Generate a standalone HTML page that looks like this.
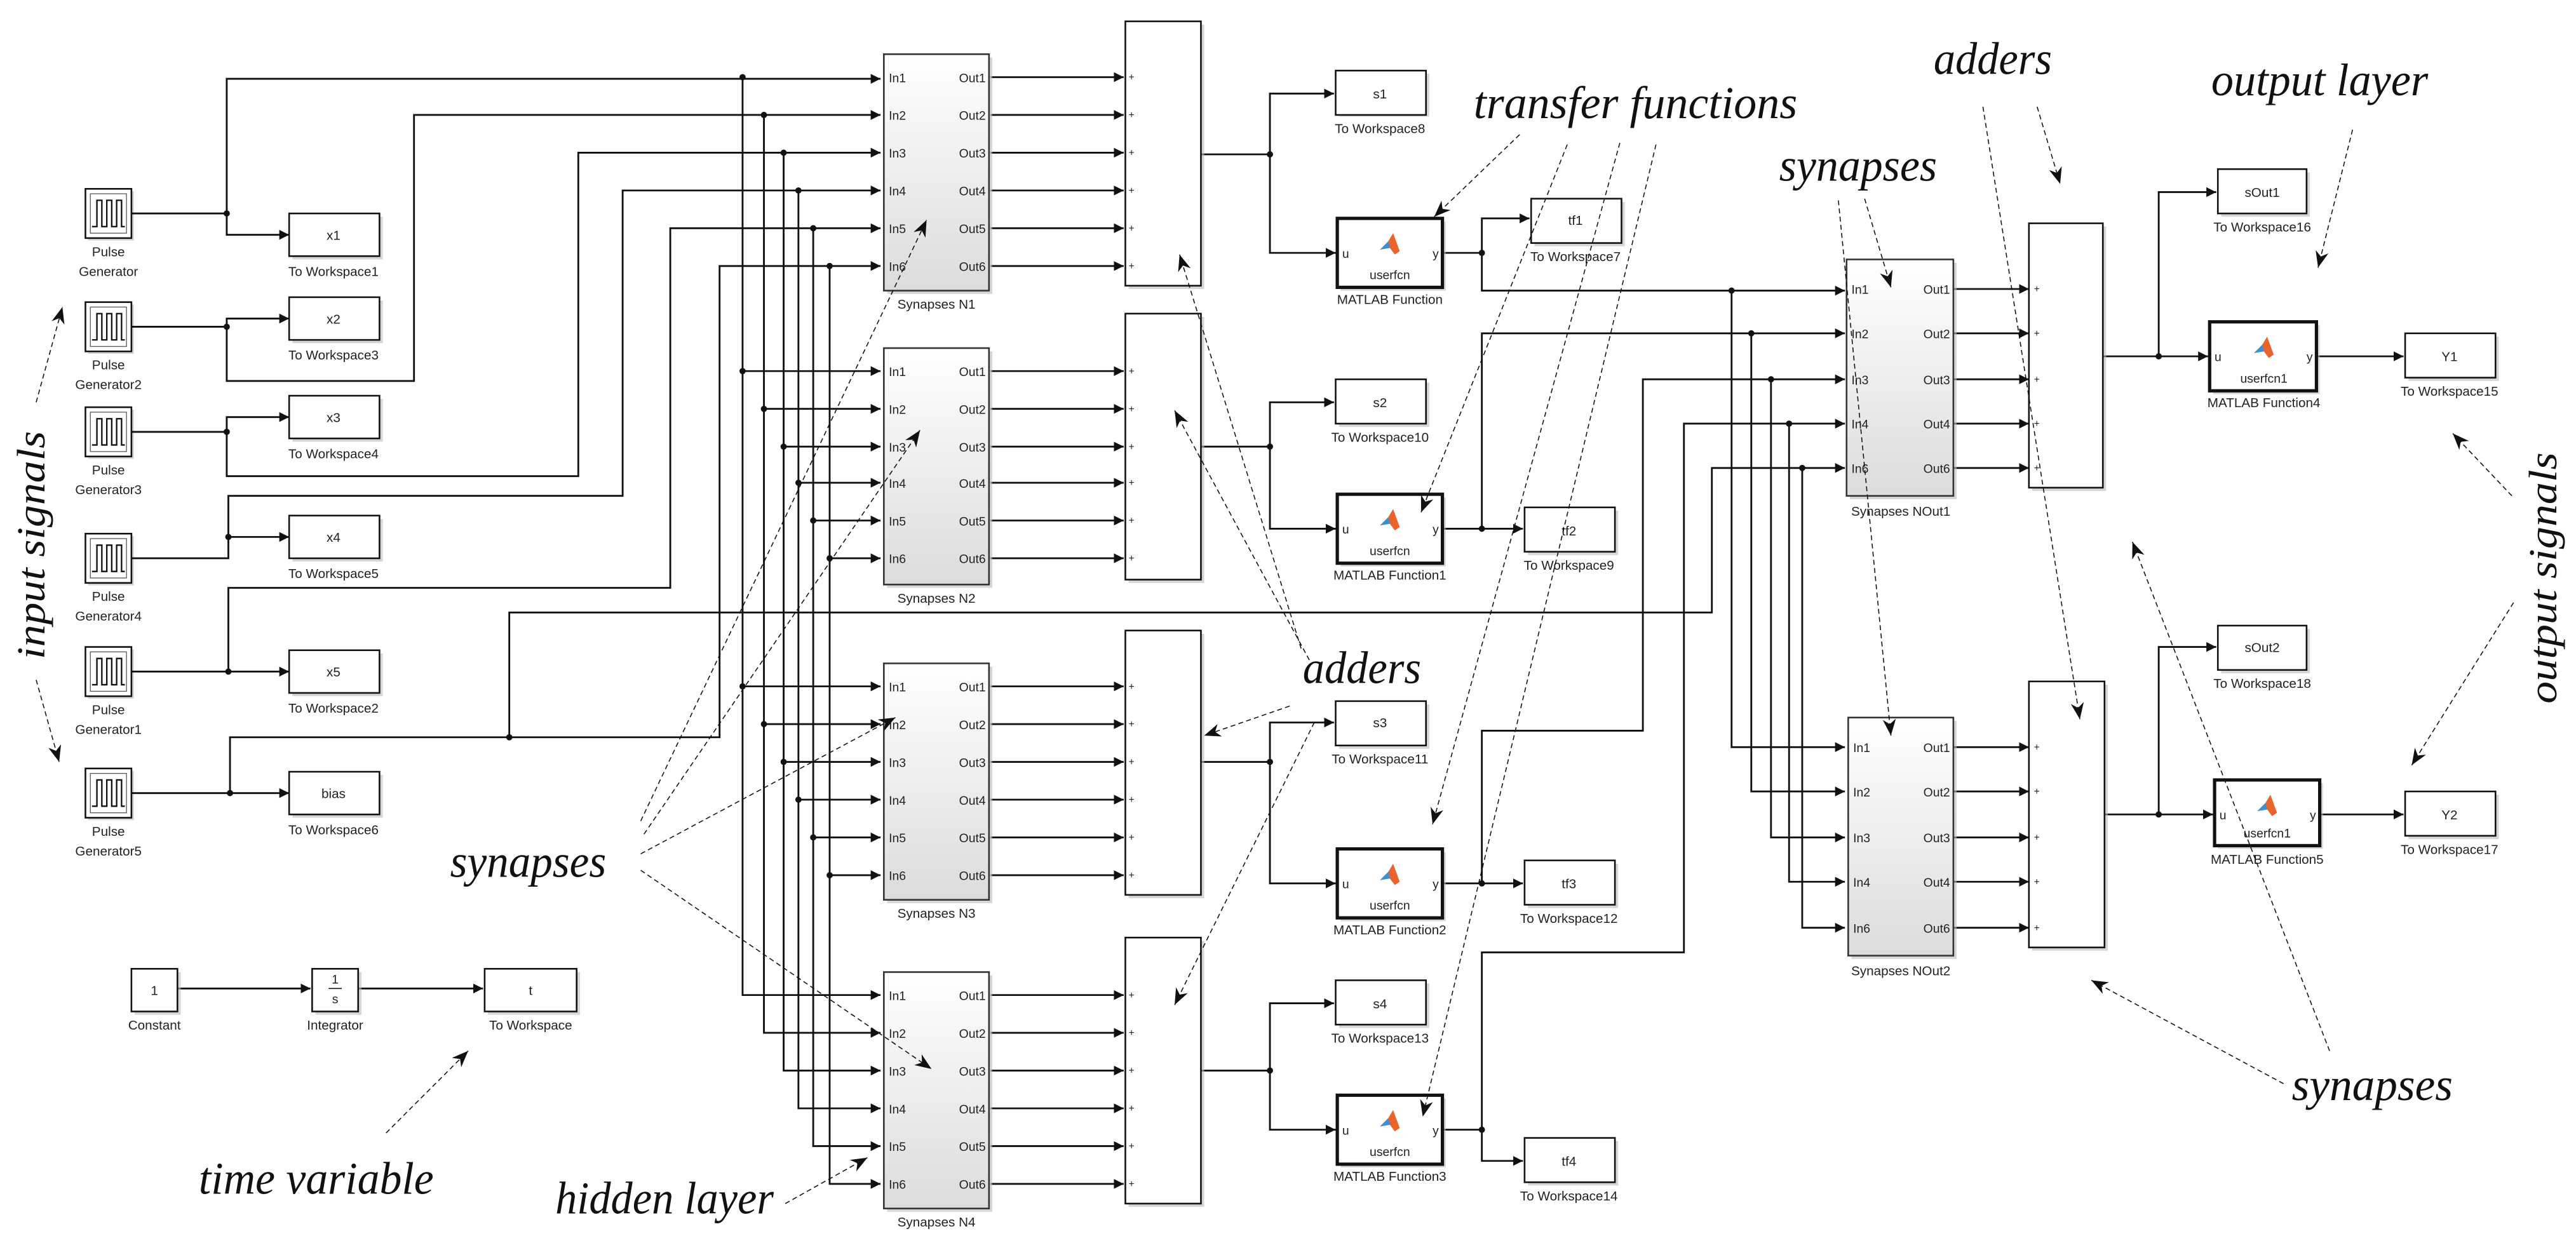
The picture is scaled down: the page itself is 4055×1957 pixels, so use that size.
<!DOCTYPE html>
<html><head><meta charset="utf-8"><style>
html,body{margin:0;padding:0;background:#fff;}
svg{display:block;}
.s{font-family:"Liberation Sans",sans-serif;font-size:8px;fill:#222;}
.p{font-family:"Liberation Sans",sans-serif;font-size:7.5px;fill:#222;}
.a{font-family:"Liberation Serif",serif;font-style:italic;font-size:28px;fill:#111;}
.w{fill:none;stroke:#111;stroke-width:1.1;}
.d{fill:none;stroke:#111;stroke-width:0.6;stroke-dasharray:3 2;}
.b{fill:#fff;stroke:#111;stroke-width:1;}
.m{fill:#fff;stroke:#111;stroke-width:2;}
.sh{fill:#bbb;opacity:.6;}
</style></head><body>
<svg width="4055" height="1957" viewBox="0 0 1568 757" preserveAspectRatio="none" xmlns="http://www.w3.org/2000/svg">
<defs>
<marker id="ar" markerUnits="userSpaceOnUse" markerWidth="7" markerHeight="7" refX="6" refY="3" orient="auto"><path d="M0,0 L6,3 L0,6 z" fill="#111"/></marker>
<marker id="da" markerUnits="userSpaceOnUse" markerWidth="12" markerHeight="10" refX="10" refY="4" orient="auto"><path d="M0,0 L10,4 L0,8 L3,4 z" fill="#111"/></marker>
<linearGradient id="g" x1="0" y1="0" x2="0" y2="1"><stop offset="0" stop-color="#fff"/><stop offset="1" stop-color="#dcdcdc"/></linearGradient>
<g id="pulse"><rect x="1.5" y="1.5" width="28" height="30" class="sh"/><rect x="0" y="0" width="28" height="30" class="b"/><rect x="3" y="3" width="22" height="24" fill="none" stroke="#555" stroke-width="0.5"/><path d="M4,23 H7 V7 H10 V23 H13 V7 H16 V23 H19 V7 H22 V23 H24" fill="none" stroke="#111" stroke-width="0.9"/></g>
<g id="logo"><path d="M-6,3 L-1,-2 L2,-7 L6,4 L3,6 L0,2 Z" fill="#e8642c"/><path d="M-6,3 L-1,-2 L0,2 Z" fill="#3b8fd6"/></g>
</defs>

<use href="#pulse" x="52" y="115"/><text class="s" x="66" y="156" text-anchor="middle">Pulse</text><text class="s" x="66" y="168" text-anchor="middle">Generator</text>
<use href="#pulse" x="52" y="184"/><text class="s" x="66" y="225" text-anchor="middle">Pulse</text><text class="s" x="66" y="237" text-anchor="middle">Generator2</text>
<use href="#pulse" x="52" y="248"/><text class="s" x="66" y="289" text-anchor="middle">Pulse</text><text class="s" x="66" y="301" text-anchor="middle">Generator3</text>
<use href="#pulse" x="52" y="325"/><text class="s" x="66" y="366" text-anchor="middle">Pulse</text><text class="s" x="66" y="378" text-anchor="middle">Generator4</text>
<use href="#pulse" x="52" y="394"/><text class="s" x="66" y="435" text-anchor="middle">Pulse</text><text class="s" x="66" y="447" text-anchor="middle">Generator1</text>
<use href="#pulse" x="52" y="468"/><text class="s" x="66" y="509" text-anchor="middle">Pulse</text><text class="s" x="66" y="521" text-anchor="middle">Generator5</text>

<g>
<rect x="178" y="132" width="55" height="26" class="sh"/><rect x="176" y="130" width="55" height="26" class="b"/><text class="s" x="203" y="146" text-anchor="middle">x1</text><text class="s" x="203" y="168" text-anchor="middle">To Workspace1</text>
<rect x="178" y="183" width="55" height="26" class="sh"/><rect x="176" y="181" width="55" height="26" class="b"/><text class="s" x="203" y="197" text-anchor="middle">x2</text><text class="s" x="203" y="219" text-anchor="middle">To Workspace3</text>
<rect x="178" y="243" width="55" height="26" class="sh"/><rect x="176" y="241" width="55" height="26" class="b"/><text class="s" x="203" y="257" text-anchor="middle">x3</text><text class="s" x="203" y="279" text-anchor="middle">To Workspace4</text>
<rect x="178" y="316" width="55" height="26" class="sh"/><rect x="176" y="314" width="55" height="26" class="b"/><text class="s" x="203" y="330" text-anchor="middle">x4</text><text class="s" x="203" y="352" text-anchor="middle">To Workspace5</text>
<rect x="178" y="398" width="55" height="26" class="sh"/><rect x="176" y="396" width="55" height="26" class="b"/><text class="s" x="203" y="412" text-anchor="middle">x5</text><text class="s" x="203" y="434" text-anchor="middle">To Workspace2</text>
<rect x="178" y="472" width="55" height="26" class="sh"/><rect x="176" y="470" width="55" height="26" class="b"/><text class="s" x="203" y="486" text-anchor="middle">bias</text><text class="s" x="203" y="508" text-anchor="middle">To Workspace6</text>
</g>

<g class="w">
<path d="M80,130 H138 V143 H176" marker-end="url(#ar)"/>
<path d="M138,130 V48 H536" marker-end="url(#ar)"/>
<path d="M80,199 H138 V194 H176" marker-end="url(#ar)"/>
<path d="M138,199 V232 H252 V70 H536" marker-end="url(#ar)"/>
<path d="M80,263 H138 V254 H176" marker-end="url(#ar)"/>
<path d="M138,263 V290 H352 V93 H536" marker-end="url(#ar)"/>
<path d="M80,340 H139 V327 H176" marker-end="url(#ar)"/>
<path d="M139,327 V302 H379 V116 H536" marker-end="url(#ar)"/>
<path d="M80,409 H176" marker-end="url(#ar)"/>
<path d="M139,409 V358 H408 V139 H536" marker-end="url(#ar)"/>
<path d="M80,483 H176" marker-end="url(#ar)"/>
<path d="M140,483 V449 H438 V162 H536" marker-end="url(#ar)"/>
<path d="M310,449 V373 H1042 V285 H1123" marker-end="url(#ar)"/>
<path d="M452,47 V606 H536" marker-end="url(#ar)"/>
<path d="M465,70 V629 H536" marker-end="url(#ar)"/>
<path d="M477,93 V652 H536" marker-end="url(#ar)"/>
<path d="M486,116 V675 H536" marker-end="url(#ar)"/>
<path d="M495,139 V698 H536" marker-end="url(#ar)"/>
<path d="M505,162 V721 H536" marker-end="url(#ar)"/>
<path d="M452,226 H536" marker-end="url(#ar)"/><path d="M465,249 H536" marker-end="url(#ar)"/><path d="M477,272 H536" marker-end="url(#ar)"/><path d="M486,294 H536" marker-end="url(#ar)"/><path d="M495,317 H536" marker-end="url(#ar)"/><path d="M505,340 H536" marker-end="url(#ar)"/>
<path d="M452,418 H536" marker-end="url(#ar)"/><path d="M465,441 H536" marker-end="url(#ar)"/><path d="M477,464 H536" marker-end="url(#ar)"/><path d="M486,487 H536" marker-end="url(#ar)"/><path d="M495,510 H536" marker-end="url(#ar)"/><path d="M505,533 H536" marker-end="url(#ar)"/>
<path d="M603,47 H684" marker-end="url(#ar)"/><path d="M603,70 H684" marker-end="url(#ar)"/><path d="M603,93 H684" marker-end="url(#ar)"/><path d="M603,116 H684" marker-end="url(#ar)"/><path d="M603,139 H684" marker-end="url(#ar)"/><path d="M603,162 H684" marker-end="url(#ar)"/>
<path d="M603,226 H684" marker-end="url(#ar)"/><path d="M603,249 H684" marker-end="url(#ar)"/><path d="M603,272 H684" marker-end="url(#ar)"/><path d="M603,294 H684" marker-end="url(#ar)"/><path d="M603,317 H684" marker-end="url(#ar)"/><path d="M603,340 H684" marker-end="url(#ar)"/>
<path d="M603,418 H684" marker-end="url(#ar)"/><path d="M603,441 H684" marker-end="url(#ar)"/><path d="M603,464 H684" marker-end="url(#ar)"/><path d="M603,487 H684" marker-end="url(#ar)"/><path d="M603,510 H684" marker-end="url(#ar)"/><path d="M603,533 H684" marker-end="url(#ar)"/>
<path d="M603,606 H684" marker-end="url(#ar)"/><path d="M603,629 H684" marker-end="url(#ar)"/><path d="M603,652 H684" marker-end="url(#ar)"/><path d="M603,675 H684" marker-end="url(#ar)"/><path d="M603,698 H684" marker-end="url(#ar)"/><path d="M603,721 H684" marker-end="url(#ar)"/>
<path d="M731,94 H773 V57 H812" marker-end="url(#ar)"/><path d="M773,94 V154 H813" marker-end="url(#ar)"/>
<path d="M731,272 H773 V245 H812" marker-end="url(#ar)"/><path d="M773,272 V322 H813" marker-end="url(#ar)"/>
<path d="M731,464 H773 V440 H812" marker-end="url(#ar)"/><path d="M773,464 V538 H813" marker-end="url(#ar)"/>
<path d="M731,652 H773 V611 H812" marker-end="url(#ar)"/><path d="M773,652 V688 H813" marker-end="url(#ar)"/>
<path d="M878,154 H902 V133 H931" marker-end="url(#ar)"/><path d="M902,154 V177 H1123" marker-end="url(#ar)"/>
<path d="M878,322 H927" marker-end="url(#ar)"/><path d="M902,322 V203 H1123" marker-end="url(#ar)"/>
<path d="M878,538 H927" marker-end="url(#ar)"/><path d="M902,538 V445 H1000 V231 H1123" marker-end="url(#ar)"/>
<path d="M878,688 H902 V707 H927" marker-end="url(#ar)"/><path d="M902,688 V580 H1025 V258 H1123" marker-end="url(#ar)"/>
<path d="M1054,177 V455 H1123" marker-end="url(#ar)"/>
<path d="M1066,203 V482 H1123" marker-end="url(#ar)"/>
<path d="M1078,231 V510 H1123" marker-end="url(#ar)"/>
<path d="M1089,258 V537 H1123" marker-end="url(#ar)"/>
<path d="M1097,285 V565 H1123" marker-end="url(#ar)"/>
<path d="M1189,176 H1235" marker-end="url(#ar)"/><path d="M1189,203 H1235" marker-end="url(#ar)"/><path d="M1189,231 H1235" marker-end="url(#ar)"/><path d="M1189,258 H1235" marker-end="url(#ar)"/><path d="M1189,285 H1235" marker-end="url(#ar)"/>
<path d="M1189,455 H1235" marker-end="url(#ar)"/><path d="M1189,482 H1235" marker-end="url(#ar)"/><path d="M1189,510 H1235" marker-end="url(#ar)"/><path d="M1189,537 H1235" marker-end="url(#ar)"/><path d="M1189,565 H1235" marker-end="url(#ar)"/>
<path d="M1280,217 H1314 V117 H1349" marker-end="url(#ar)"/><path d="M1314,217 H1344" marker-end="url(#ar)"/>
<path d="M1410,217 H1463" marker-end="url(#ar)"/>
<path d="M1281,496 H1314 V394 H1349" marker-end="url(#ar)"/><path d="M1314,496 H1347" marker-end="url(#ar)"/>
<path d="M1412,496 H1463" marker-end="url(#ar)"/>
<path d="M108,602 H189" marker-end="url(#ar)"/><path d="M218,602 H294" marker-end="url(#ar)"/>
</g>

<g fill="#111">
<circle cx="138" cy="130" r="1.9"/><circle cx="138" cy="199" r="1.9"/><circle cx="138" cy="263" r="1.9"/><circle cx="139" cy="327" r="1.9"/><circle cx="139" cy="409" r="1.9"/><circle cx="140" cy="483" r="1.9"/><circle cx="310" cy="449" r="1.9"/>
<circle cx="452" cy="47" r="1.9"/><circle cx="465" cy="70" r="1.9"/><circle cx="477" cy="93" r="1.9"/><circle cx="486" cy="116" r="1.9"/><circle cx="495" cy="139" r="1.9"/><circle cx="505" cy="162" r="1.9"/>
<circle cx="452" cy="226" r="1.9"/><circle cx="465" cy="249" r="1.9"/><circle cx="477" cy="272" r="1.9"/><circle cx="486" cy="294" r="1.9"/><circle cx="495" cy="317" r="1.9"/><circle cx="505" cy="340" r="1.9"/>
<circle cx="452" cy="418" r="1.9"/><circle cx="465" cy="441" r="1.9"/><circle cx="477" cy="464" r="1.9"/><circle cx="486" cy="487" r="1.9"/><circle cx="495" cy="510" r="1.9"/><circle cx="505" cy="533" r="1.9"/>
<circle cx="773" cy="94" r="1.9"/><circle cx="773" cy="272" r="1.9"/><circle cx="773" cy="464" r="1.9"/><circle cx="773" cy="652" r="1.9"/>
<circle cx="902" cy="154" r="1.9"/><circle cx="902" cy="322" r="1.9"/><circle cx="902" cy="538" r="1.9"/><circle cx="902" cy="688" r="1.9"/>
<circle cx="1054" cy="177" r="1.9"/><circle cx="1066" cy="203" r="1.9"/><circle cx="1078" cy="231" r="1.9"/><circle cx="1089" cy="258" r="1.9"/><circle cx="1097" cy="285" r="1.9"/>
<circle cx="1314" cy="217" r="1.9"/><circle cx="1314" cy="496" r="1.9"/>
</g>

<g>
<rect x="540" y="35" width="64" height="144" class="sh"/><rect x="538" y="33" width="64" height="144" fill="url(#g)" stroke="#333" stroke-width="1"/>
<text class="p" x="541" y="50">In1</text><text class="p" x="541" y="73">In2</text><text class="p" x="541" y="96">In3</text><text class="p" x="541" y="119">In4</text><text class="p" x="541" y="142">In5</text><text class="p" x="541" y="165">In6</text>
<text class="p" x="600" y="50" text-anchor="end">Out1</text><text class="p" x="600" y="73" text-anchor="end">Out2</text><text class="p" x="600" y="96" text-anchor="end">Out3</text><text class="p" x="600" y="119" text-anchor="end">Out4</text><text class="p" x="600" y="142" text-anchor="end">Out5</text><text class="p" x="600" y="165" text-anchor="end">Out6</text>
<text class="s" x="570" y="188" text-anchor="middle">Synapses N1</text>

<rect x="540" y="214" width="64" height="144" class="sh"/><rect x="538" y="212" width="64" height="144" fill="url(#g)" stroke="#333" stroke-width="1"/>
<text class="p" x="541" y="229">In1</text><text class="p" x="541" y="252">In2</text><text class="p" x="541" y="275">In3</text><text class="p" x="541" y="297">In4</text><text class="p" x="541" y="320">In5</text><text class="p" x="541" y="343">In6</text>
<text class="p" x="600" y="229" text-anchor="end">Out1</text><text class="p" x="600" y="252" text-anchor="end">Out2</text><text class="p" x="600" y="275" text-anchor="end">Out3</text><text class="p" x="600" y="297" text-anchor="end">Out4</text><text class="p" x="600" y="320" text-anchor="end">Out5</text><text class="p" x="600" y="343" text-anchor="end">Out6</text>
<text class="s" x="570" y="367" text-anchor="middle">Synapses N2</text>

<rect x="540" y="406" width="64" height="144" class="sh"/><rect x="538" y="404" width="64" height="144" fill="url(#g)" stroke="#333" stroke-width="1"/>
<text class="p" x="541" y="421">In1</text><text class="p" x="541" y="444">In2</text><text class="p" x="541" y="467">In3</text><text class="p" x="541" y="490">In4</text><text class="p" x="541" y="513">In5</text><text class="p" x="541" y="536">In6</text>
<text class="p" x="600" y="421" text-anchor="end">Out1</text><text class="p" x="600" y="444" text-anchor="end">Out2</text><text class="p" x="600" y="467" text-anchor="end">Out3</text><text class="p" x="600" y="490" text-anchor="end">Out4</text><text class="p" x="600" y="513" text-anchor="end">Out5</text><text class="p" x="600" y="536" text-anchor="end">Out6</text>
<text class="s" x="570" y="559" text-anchor="middle">Synapses N3</text>

<rect x="540" y="594" width="64" height="144" class="sh"/><rect x="538" y="592" width="64" height="144" fill="url(#g)" stroke="#333" stroke-width="1"/>
<text class="p" x="541" y="609">In1</text><text class="p" x="541" y="632">In2</text><text class="p" x="541" y="655">In3</text><text class="p" x="541" y="678">In4</text><text class="p" x="541" y="701">In5</text><text class="p" x="541" y="724">In6</text>
<text class="p" x="600" y="609" text-anchor="end">Out1</text><text class="p" x="600" y="632" text-anchor="end">Out2</text><text class="p" x="600" y="655" text-anchor="end">Out3</text><text class="p" x="600" y="678" text-anchor="end">Out4</text><text class="p" x="600" y="701" text-anchor="end">Out5</text><text class="p" x="600" y="724" text-anchor="end">Out6</text>
<text class="s" x="570" y="747" text-anchor="middle">Synapses N4</text>

<rect x="1126" y="160" width="65" height="144" class="sh"/><rect x="1124" y="158" width="65" height="144" fill="url(#g)" stroke="#333" stroke-width="1"/>
<text class="p" x="1127" y="179">In1</text><text class="p" x="1127" y="206">In2</text><text class="p" x="1127" y="234">In3</text><text class="p" x="1127" y="261">In4</text><text class="p" x="1127" y="288">In6</text>
<text class="p" x="1187" y="179" text-anchor="end">Out1</text><text class="p" x="1187" y="206" text-anchor="end">Out2</text><text class="p" x="1187" y="234" text-anchor="end">Out3</text><text class="p" x="1187" y="261" text-anchor="end">Out4</text><text class="p" x="1187" y="288" text-anchor="end">Out6</text>
<text class="s" x="1157" y="314" text-anchor="middle">Synapses NOut1</text>

<rect x="1127" y="439" width="64" height="145" class="sh"/><rect x="1125" y="437" width="64" height="145" fill="url(#g)" stroke="#333" stroke-width="1"/>
<text class="p" x="1128" y="458">In1</text><text class="p" x="1128" y="485">In2</text><text class="p" x="1128" y="513">In3</text><text class="p" x="1128" y="540">In4</text><text class="p" x="1128" y="568">In6</text>
<text class="p" x="1187" y="458" text-anchor="end">Out1</text><text class="p" x="1187" y="485" text-anchor="end">Out2</text><text class="p" x="1187" y="513" text-anchor="end">Out3</text><text class="p" x="1187" y="540" text-anchor="end">Out4</text><text class="p" x="1187" y="568" text-anchor="end">Out6</text>
<text class="s" x="1157" y="594" text-anchor="middle">Synapses NOut2</text>
</g>

<g>
<rect x="687" y="15" width="46" height="161" class="sh"/><rect x="685" y="13" width="46" height="161" class="b"/>
<rect x="687" y="193" width="46" height="162" class="sh"/><rect x="685" y="191" width="46" height="162" class="b"/>
<rect x="687" y="386" width="46" height="161" class="sh"/><rect x="685" y="384" width="46" height="161" class="b"/>
<rect x="687" y="573" width="46" height="162" class="sh"/><rect x="685" y="571" width="46" height="162" class="b"/>
<rect x="1237" y="138" width="45" height="161" class="sh"/><rect x="1235" y="136" width="45" height="161" class="b"/>
<rect x="1237" y="417" width="46" height="162" class="sh"/><rect x="1235" y="415" width="46" height="162" class="b"/>
</g>
<g class="p" style="font-size:6px">
<text x="687" y="49">+</text><text x="687" y="72">+</text><text x="687" y="95">+</text><text x="687" y="118">+</text><text x="687" y="141">+</text><text x="687" y="164">+</text>
<text x="687" y="228">+</text><text x="687" y="251">+</text><text x="687" y="274">+</text><text x="687" y="296">+</text><text x="687" y="319">+</text><text x="687" y="342">+</text>
<text x="687" y="420">+</text><text x="687" y="443">+</text><text x="687" y="466">+</text><text x="687" y="489">+</text><text x="687" y="512">+</text><text x="687" y="535">+</text>
<text x="687" y="608">+</text><text x="687" y="631">+</text><text x="687" y="654">+</text><text x="687" y="677">+</text><text x="687" y="700">+</text><text x="687" y="723">+</text>
<text x="1238" y="178">+</text><text x="1238" y="205">+</text><text x="1238" y="233">+</text><text x="1238" y="260">+</text><text x="1238" y="287">+</text>
<text x="1238" y="457">+</text><text x="1238" y="484">+</text><text x="1238" y="512">+</text><text x="1238" y="539">+</text><text x="1238" y="567">+</text>
</g>

<g>
<rect x="815" y="45" width="55" height="26" class="sh"/><rect x="813" y="43" width="55" height="27" class="b"/><text class="s" x="840" y="60" text-anchor="middle">s1</text><text class="s" x="840" y="81" text-anchor="middle">To Workspace8</text>
<rect x="815" y="233" width="55" height="27" class="sh"/><rect x="813" y="231" width="55" height="27" class="b"/><text class="s" x="840" y="248" text-anchor="middle">s2</text><text class="s" x="840" y="269" text-anchor="middle">To Workspace10</text>
<rect x="815" y="429" width="55" height="27" class="sh"/><rect x="813" y="427" width="55" height="27" class="b"/><text class="s" x="840" y="443" text-anchor="middle">s3</text><text class="s" x="840" y="465" text-anchor="middle">To Workspace11</text>
<rect x="815" y="599" width="55" height="27" class="sh"/><rect x="813" y="597" width="55" height="27" class="b"/><text class="s" x="840" y="614" text-anchor="middle">s4</text><text class="s" x="840" y="635" text-anchor="middle">To Workspace13</text>
<rect x="934" y="123" width="55" height="27" class="sh"/><rect x="932" y="121" width="55" height="27" class="b"/><text class="s" x="959" y="137" text-anchor="middle">tf1</text><text class="s" x="959" y="159" text-anchor="middle">To Workspace7</text>
<rect x="930" y="311" width="55" height="27" class="sh"/><rect x="928" y="309" width="55" height="27" class="b"/><text class="s" x="955" y="326" text-anchor="middle">tf2</text><text class="s" x="955" y="347" text-anchor="middle">To Workspace9</text>
<rect x="930" y="526" width="55" height="27" class="sh"/><rect x="928" y="524" width="55" height="27" class="b"/><text class="s" x="955" y="541" text-anchor="middle">tf3</text><text class="s" x="955" y="562" text-anchor="middle">To Workspace12</text>
<rect x="930" y="695" width="55" height="27" class="sh"/><rect x="928" y="693" width="55" height="27" class="b"/><text class="s" x="955" y="710" text-anchor="middle">tf4</text><text class="s" x="955" y="731" text-anchor="middle">To Workspace14</text>
<rect x="1352" y="105" width="54" height="27" class="sh"/><rect x="1350" y="103" width="54" height="27" class="b"/><text class="s" x="1377" y="120" text-anchor="middle">sOut1</text><text class="s" x="1377" y="141" text-anchor="middle">To Workspace16</text>
<rect x="1352" y="383" width="54" height="27" class="sh"/><rect x="1350" y="381" width="54" height="27" class="b"/><text class="s" x="1377" y="397" text-anchor="middle">sOut2</text><text class="s" x="1377" y="419" text-anchor="middle">To Workspace18</text>
<rect x="1466" y="205" width="55" height="27" class="sh"/><rect x="1464" y="203" width="55" height="27" class="b"/><text class="s" x="1491" y="220" text-anchor="middle">Y1</text><text class="s" x="1491" y="241" text-anchor="middle">To Workspace15</text>
<rect x="1466" y="484" width="55" height="27" class="sh"/><rect x="1464" y="482" width="55" height="27" class="b"/><text class="s" x="1491" y="499" text-anchor="middle">Y2</text><text class="s" x="1491" y="520" text-anchor="middle">To Workspace17</text>
</g>

<g>
<rect x="816" y="135" width="64" height="42" class="sh"/><rect x="814" y="133" width="64" height="42" class="m"/>
<text class="p" x="817" y="157">u</text><text class="p" x="872" y="157">y</text><use href="#logo" x="846" y="149"/><text class="p" x="846" y="170" text-anchor="middle">userfcn</text><text class="s" x="846" y="185" text-anchor="middle">MATLAB Function</text>
<rect x="816" y="303" width="64" height="42" class="sh"/><rect x="814" y="301" width="64" height="42" class="m"/>
<text class="p" x="817" y="325">u</text><text class="p" x="872" y="325">y</text><use href="#logo" x="846" y="317"/><text class="p" x="846" y="338" text-anchor="middle">userfcn</text><text class="s" x="846" y="353" text-anchor="middle">MATLAB Function1</text>
<rect x="816" y="519" width="64" height="42" class="sh"/><rect x="814" y="517" width="64" height="42" class="m"/>
<text class="p" x="817" y="541">u</text><text class="p" x="872" y="541">y</text><use href="#logo" x="846" y="533"/><text class="p" x="846" y="554" text-anchor="middle">userfcn</text><text class="s" x="846" y="569" text-anchor="middle">MATLAB Function2</text>
<rect x="816" y="669" width="64" height="42" class="sh"/><rect x="814" y="667" width="64" height="42" class="m"/>
<text class="p" x="817" y="691">u</text><text class="p" x="872" y="691">y</text><use href="#logo" x="846" y="683"/><text class="p" x="846" y="704" text-anchor="middle">userfcn</text><text class="s" x="846" y="719" text-anchor="middle">MATLAB Function3</text>
<rect x="1347" y="198" width="65" height="42" class="sh"/><rect x="1345" y="196" width="65" height="42" class="m"/>
<text class="p" x="1348" y="220">u</text><text class="p" x="1404" y="220">y</text><use href="#logo" x="1378" y="212"/><text class="p" x="1378" y="233" text-anchor="middle">userfcn1</text><text class="s" x="1378" y="248" text-anchor="middle">MATLAB Function4</text>
<rect x="1350" y="477" width="64" height="40" class="sh"/><rect x="1348" y="475" width="64" height="40" class="m"/>
<text class="p" x="1351" y="499">u</text><text class="p" x="1406" y="499">y</text><use href="#logo" x="1380" y="491"/><text class="p" x="1380" y="510" text-anchor="middle">userfcn1</text><text class="s" x="1380" y="526" text-anchor="middle">MATLAB Function5</text>
</g>

<g>
<rect x="82" y="592" width="28" height="26" class="sh"/><rect x="80" y="590" width="28" height="26" class="b"/><text class="s" x="94" y="606" text-anchor="middle">1</text><text class="s" x="94" y="627" text-anchor="middle">Constant</text>
<rect x="192" y="592" width="28" height="26" class="sh"/><rect x="190" y="590" width="28" height="26" class="b"/><text class="p" x="204" y="599" text-anchor="middle">1</text><line x1="200" y1="602" x2="208" y2="602" stroke="#111" stroke-width="0.6"/><text class="p" x="204" y="611" text-anchor="middle">s</text><text class="s" x="204" y="627" text-anchor="middle">Integrator</text>
<rect x="297" y="592" width="56" height="26" class="sh"/><rect x="295" y="590" width="56" height="26" class="b"/><text class="s" x="323" y="606" text-anchor="middle">t</text><text class="s" x="323" y="627" text-anchor="middle">To Workspace</text>
</g>

<g>
<text class="a" style="font-size:24px" x="0" y="0" transform="translate(27,332) rotate(-90)" text-anchor="middle" textLength="139" lengthAdjust="spacingAndGlyphs">input signals</text>
<text class="a" style="font-size:24px" x="0" y="0" transform="translate(1556,352) rotate(-90)" text-anchor="middle" textLength="153" lengthAdjust="spacingAndGlyphs">output signals</text>
<text class="a" x="897" y="72" textLength="197" lengthAdjust="spacingAndGlyphs">transfer  functions</text>
<text class="a" x="1177" y="45" textLength="72" lengthAdjust="spacingAndGlyphs">adders</text>
<text class="a" x="1346" y="58" textLength="132" lengthAdjust="spacingAndGlyphs">output layer</text>
<text class="a" x="1083" y="110" textLength="96" lengthAdjust="spacingAndGlyphs">synapses</text>
<text class="a" x="793" y="416" textLength="72" lengthAdjust="spacingAndGlyphs">adders</text>
<text class="a" x="274" y="534" textLength="95" lengthAdjust="spacingAndGlyphs">synapses</text>
<text class="a" x="1395" y="670" textLength="98" lengthAdjust="spacingAndGlyphs">synapses</text>
<text class="a" x="121" y="727" textLength="143" lengthAdjust="spacingAndGlyphs">time variable</text>
<text class="a" x="338" y="739" textLength="133" lengthAdjust="spacingAndGlyphs">hidden layer</text>
</g>
<g class="d">
<path d="M22,245 L38,187" marker-end="url(#da)"/>
<path d="M22,414 L36,464" marker-end="url(#da)"/>
<path d="M390,500 L564,134" marker-end="url(#da)"/>
<path d="M392,508 L560,262" marker-end="url(#da)"/>
<path d="M390,520 L545,437" marker-end="url(#da)"/>
<path d="M390,530 L567,651" marker-end="url(#da)"/>
<path d="M478,733 L528,705" marker-end="url(#da)"/>
<path d="M235,690 L285,640" marker-end="url(#da)"/>
<path d="M925,82 L873,132" marker-end="url(#da)"/>
<path d="M954,88 L865,312" marker-end="url(#da)"/>
<path d="M986,87 L872,502" marker-end="url(#da)"/>
<path d="M1008,88 L866,680" marker-end="url(#da)"/>
<path d="M792,395 L718,155" marker-end="url(#da)"/>
<path d="M797,402 L715,250" marker-end="url(#da)"/>
<path d="M785,430 L733,448" marker-end="url(#da)"/>
<path d="M800,440 L715,612" marker-end="url(#da)"/>
<path d="M1207,65 L1266,438" marker-end="url(#da)"/>
<path d="M1240,65 L1254,112" marker-end="url(#da)"/>
<path d="M1119,122 L1151,448" marker-end="url(#da)"/>
<path d="M1135,121 L1151,175" marker-end="url(#da)"/>
<path d="M1432,79 L1411,163" marker-end="url(#da)"/>
<path d="M1529,302 L1493,264" marker-end="url(#da)"/>
<path d="M1530,367 L1468,466" marker-end="url(#da)"/>
<path d="M1390,660 L1273,597" marker-end="url(#da)"/>
<path d="M1418,640 L1298,330" marker-end="url(#da)"/>
</g>
</svg>
</body></html>
